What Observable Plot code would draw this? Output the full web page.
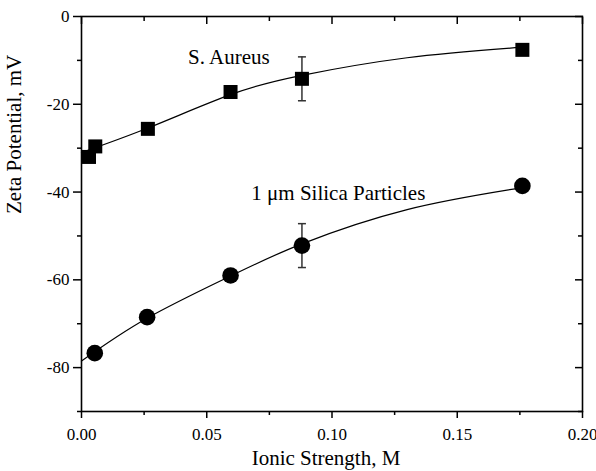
<!DOCTYPE html>
<html><head><meta charset="utf-8">
<script src="https://cdn.jsdelivr.net/npm/d3@7"></script>
<script src="https://cdn.jsdelivr.net/npm/@observablehq/plot@0.6"></script>
<style>html,body{margin:0;padding:0;background:#fff}</style>
</head><body><div id="chart"></div>
<script>
// S. Aureus measurements
const aureusX = [0.003, 0.0055, 0.0265, 0.0595, 0.088, 0.176];
const aureusY = [-32.0, -29.6, -25.6, -17.2, -14.2, -7.6];
const aureusErr = [0, 0, 0, 0, 5, 0];
// 1 µm silica particle measurements
const silicaX = [0.0053, 0.0262, 0.0595, 0.088, 0.176];
const silicaY = [-76.7, -68.5, -59.0, -52.2, -38.6];
const silicaErr = [0, 0, 0, 5, 0];
// fitted curves
const aureusFitX = [0, 0.027, 0.06, 0.088, 0.13, 0.176];
const aureusFitY = [-31.0, -25.3, -17.7, -13.4, -9.4, -7.0];
const silicaFitX = [0, 0.026, 0.06, 0.088, 0.13, 0.176];
const silicaFitY = [-78.5, -68.8, -59.0, -51.8, -44.0, -39.0];
// ticks
const xTicks = [0, 0.05, 0.10, 0.15, 0.20];
const xMinor = [0.025, 0.075, 0.125, 0.175];
const yTicks = [0, -20, -40, -60, -80];
const yMinor = [-10, -30, -50, -70, -90];
// annotations
const labels = ["S. Aureus", "1 \u03bcm Silica Particles"];
const labelX = [0.0425, 0.0678];
const labelY = [-9.3, -40.3];

const pts = (xs, ys, es) => xs.map((x, i) => ({x, y: ys[i], e: es ? es[i] : 0}));
const aureus = pts(aureusX, aureusY, aureusErr);
const silica = pts(silicaX, silicaY, silicaErr);
const errs = [...aureus, ...silica].filter(d => d.e > 0);
const aureusFit = pts(aureusFitX, aureusFitY);
const silicaFit = pts(silicaFitX, silicaFitY);
const ann = labels.map((t, i) => ({t, x: labelX[i], y: labelY[i]}));

const cap = {draw(ctx) { ctx.moveTo(-4, 0); ctx.lineTo(4, 0); }};
const none = () => "";
const font = "Liberation Serif, Times New Roman, serif";

const chart = Plot.plot({
  width: 596, height: 471,
  marginLeft: 81, marginRight: 14, marginTop: 16, marginBottom: 60,
  x: {domain: [0, 0.2]},
  y: {domain: [-90, 0]},
  style: {fontFamily: font, fontSize: "17px", color: "black", background: "white"},
  marks: [
    Plot.frame({stroke: "black", strokeWidth: 1.6}),
    // bottom
    Plot.axisX(xTicks, {anchor: "bottom", tickSize: 7, tickPadding: 9, strokeWidth: 1.5, tickFormat: d3.format(".2f"), fontSize: 17, label: null}),
    Plot.axisX(xMinor, {anchor: "bottom", tickSize: 4, strokeWidth: 1.5, tickFormat: none, label: null}),
    // top (inward)
    Plot.axisX(xTicks, {anchor: "top", tickSize: 7, dy: 7, strokeWidth: 1.5, tickFormat: none, label: null}),
    Plot.axisX(xMinor, {anchor: "top", tickSize: 4, dy: 4, strokeWidth: 1.5, tickFormat: none, label: null}),
    // left
    Plot.axisY(yTicks, {anchor: "left", tickSize: 8, tickPadding: 4, strokeWidth: 1.5, tickFormat: d => String(d), fontSize: 17, label: null}),
    Plot.axisY(yMinor, {anchor: "left", tickSize: 4, strokeWidth: 1.5, tickFormat: none, label: null}),
    // right (inward)
    Plot.axisY(yTicks, {anchor: "right", tickSize: 8, dx: -8, strokeWidth: 1.5, tickFormat: none, label: null}),
    Plot.axisY(yMinor, {anchor: "right", tickSize: 5, dx: -5, strokeWidth: 1.5, tickFormat: none, label: null}),
    // axis titles
    Plot.text(["Ionic Strength, M"], {frameAnchor: "bottom", dy: 47, dx: -6, fontSize: 21, lineAnchor: "middle", fill: "black"}),
    Plot.text(["Zeta Potential, mV"], {frameAnchor: "left", rotate: -90, dx: -67, fontSize: 21, lineAnchor: "middle", fill: "black"}),
    // fits
    Plot.line(aureusFit, {x: "x", y: "y", curve: "natural", stroke: "black", strokeWidth: 1.2}),
    Plot.line(silicaFit, {x: "x", y: "y", curve: "natural", stroke: "black", strokeWidth: 1.2}),
    // error bars
    Plot.ruleX(errs, {x: "x", y1: d => d.y - d.e, y2: d => d.y + d.e, stroke: "#333", strokeWidth: 1.5}),
    Plot.dot(errs, {x: "x", y: d => d.y - d.e, symbol: cap, stroke: "#333", strokeWidth: 1.5}),
    Plot.dot(errs, {x: "x", y: d => d.y + d.e, symbol: cap, stroke: "#333", strokeWidth: 1.5}),
    // markers
    Plot.dot(aureus, {x: "x", y: "y", symbol: "square", r: 7.9, fill: "black", stroke: null}),
    Plot.dot(silica, {x: "x", y: "y", symbol: "circle", r: 8.3, fill: "black", stroke: null}),
    // annotations
    Plot.text(ann, {x: "x", y: "y", text: "t", textAnchor: "start", lineAnchor: "middle", fontSize: 21, fill: "black"})
  ]
});
document.getElementById("chart").append(chart);
</script>
</body></html>
